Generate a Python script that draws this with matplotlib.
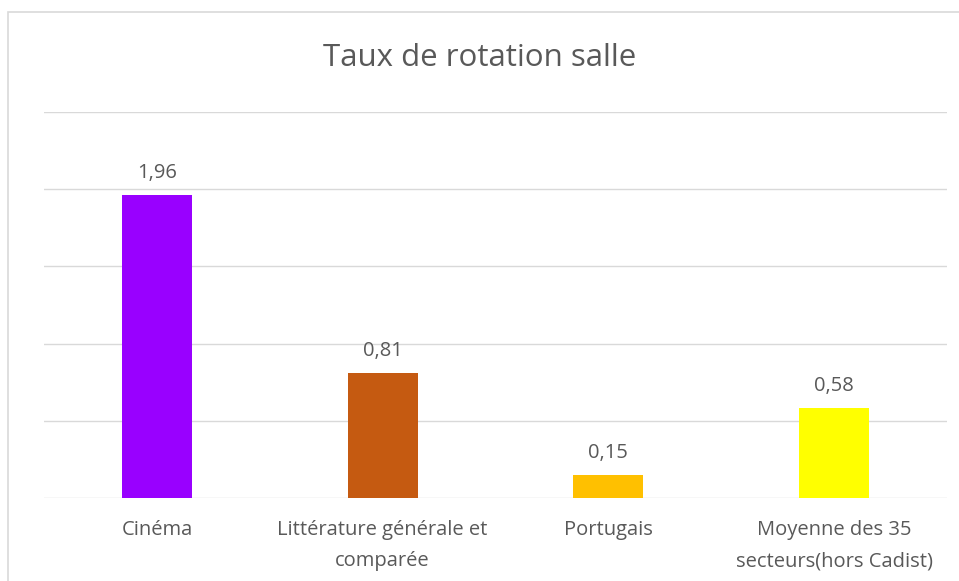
import matplotlib.pyplot as plt
from matplotlib.patches import Rectangle

# Taux de rotation salle
categories = ["Cinéma", "Littérature générale et\ncomparée", "Portugais",
              "Moyenne des 35\nsecteurs(hors Cadist)"]
values = [1.96, 0.81, 0.15, 0.58]
colors = ["#9900FF", "#C55A11", "#FFC000", "#FFFF00"]

plt.rcParams['font.family'] = ['Open Sans', 'DejaVu Sans']
text_color = "#595959"

fig = plt.figure(figsize=(9.59, 5.81), dpi=100)
ax = fig.add_axes([0.0459, 0.1429, 0.9416, 0.6643])

# chart frame
fig.patches.append(Rectangle((0.008, -0.05), 1.05, 1.03, transform=fig.transFigure,
                             fill=False, edgecolor="#D9D9D9", linewidth=1.2))

x = range(len(categories))
ax.bar(x, values, width=0.31, color=colors, zorder=3)

for xi, v in zip(x, values):
    ax.annotate(f"{v:.2f}".replace(".", ","), (xi, v), xytext=(0, 16),
                textcoords="offset points", ha="center", va="center",
                fontsize=14.5, color=text_color)

ax.set_xlim(-0.5, len(categories) - 0.5)
ax.set_ylim(0, 2.5)
ax.set_yticks([0, 0.5, 1, 1.5, 2, 2.5])
ax.yaxis.grid(True, color="#D9D9D9", linewidth=1, zorder=0)
ax.tick_params(axis="y", left=False, labelleft=False)
ax.tick_params(axis="x", length=0, pad=16)
ax.set_xticks(list(x))
ax.set_xticklabels(categories, fontsize=14.5, color=text_color, linespacing=1.75)
for s in ax.spines.values():
    s.set_visible(False)

fig.text(0.5, 0.9, "Taux de rotation salle", ha="center", va="center",
         fontsize=22.5, color=text_color)

fig.savefig("out.png", dpi=100)
